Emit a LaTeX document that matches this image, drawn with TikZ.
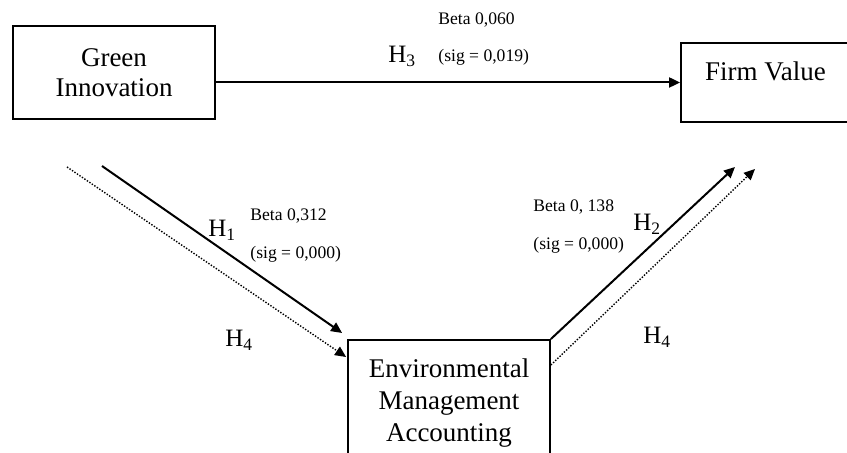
\documentclass[tikz,border=0pt]{standalone}
\usepackage{fontspec}
\setmainfont{Liberation Serif}
\usetikzlibrary{arrows.meta, positioning}

\begin{document}
\begin{tikzpicture}[
  x=0.5pt, y=-0.5pt,
  box/.style={rectangle, draw, line width=0.9pt, minimum width=101pt, align=center, inner sep=0pt, font=\fontsize{13.5}{15}\selectfont},
  arrow/.style={-{Triangle[length=5.5pt, width=5pt]}, line width=1pt},
  dotarrow/.style={-{Triangle[length=5.5pt, width=5pt]}, line width=0.7pt, dash pattern=on 0.7pt off 0.8pt},
  beta/.style={anchor=base west, inner sep=0pt, font=\fontsize{8.8}{10}\selectfont},
  hyp/.style={anchor=base west, inner sep=0pt, font=\fontsize{12.5}{14}\selectfont}
]
  \useasboundingbox (0,0) rectangle (847,453);
  \clip (0,0) rectangle (847,453);

  \node[box, minimum height=46.5pt] (gi) at (114,72.5) {Green\\Innovation};
  \node[box, minimum width=84.5pt, text height=19pt, text depth=20.5pt] (fv) at (765.5,82.5) {Firm Value};
  \node[box, anchor=north, inner ysep=9.5pt, font=\fontsize{13.5}{16}\selectfont] (ema) at (449,339) {Environmental\\Management\\Accounting};

  \coordinate (h1s) at (102,166);
  \coordinate (h4ls) at (67,167);
  \coordinate (h2e) at (735,167);
  \coordinate (h4re) at (755,169);

  \draw[arrow] (fv.west -| gi.east) -- (fv.west);
  \draw[arrow] (h1s) -- ([shift={(-5,-6)}]ema.north west);
  \draw[dotarrow] (h4ls) -- ([shift={(-1,18)}]ema.north west);
  \draw[arrow] (ema.north east) -- (h2e);
  \draw[dotarrow] ([shift={(0,26)}]ema.north east) -- (h4re);

  % path labels
  \node[beta] (b3) at (438,25) {Beta 0,060};
  \node[beta] (s3) at (438,62) {(sig = 0,019)};
  \node[hyp] (h3) at (388,63) {H\textsubscript{3}};
  \node[beta] (b1) at (250,221) {Beta 0,312};
  \node[beta] (s1) at (250,259) {(sig = 0,000)};
  \node[hyp] (h1) at (208,237) {H\textsubscript{1}};
  \node[hyp] (h4l) at (225,347) {H\textsubscript{4}};
  \node[beta] (b2) at (533,212) {Beta 0, 138};
  \node[beta] (s2) at (533,250) {(sig = 0,000)};
  \node[hyp] (h2) at (633,231) {H\textsubscript{2}};
  \node[hyp] (h4r) at (643,344) {H\textsubscript{4}};
\end{tikzpicture}
\end{document}
